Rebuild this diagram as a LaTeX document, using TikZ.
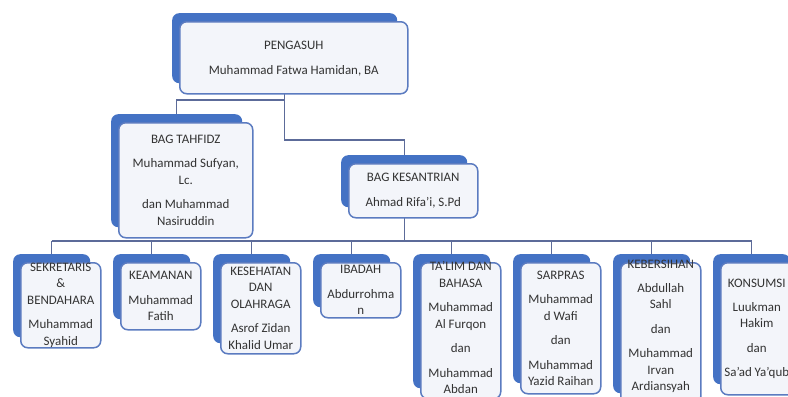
\documentclass[tikz,border=0pt]{standalone}
\usepackage{fontspec}
\setmainfont{Carlito}
\usetikzlibrary{backgrounds}
\definecolor{backblue}{HTML}{4472C4}
\definecolor{frontedge}{HTML}{5B7BC0}
\definecolor{frontfill}{HTML}{F3F5FA}
\definecolor{linecol}{HTML}{5C6B99}
\definecolor{txtcol}{HTML}{333333}
\tikzset{
  backbox/.style={fill=backblue, draw=none, rounded corners=7bp, inner sep=0pt, anchor=north west},
  frontbox/.style={fill=frontfill, draw=frontedge, line width=1.5bp, rounded corners=7bp, inner sep=0pt, anchor=north west},
  boxtext/.style={text=txtcol, align=center, font=\fontsize{13}{16.5}\selectfont, inner sep=0pt},
  conn/.style={draw=linecol, line width=1.2bp}
}
\newcommand\pgap{\\[8bp]}
\newcommand\orgbox[7]{%
  \pgfmathsetmacro\bw{#4-#2}\pgfmathsetmacro\bh{#5-#3}%
  \node[backbox, minimum width=\bw bp-3bp, minimum height=\bh bp-2bp] (#1b) at (#2-7,#3-8) {};
  \node[frontbox, minimum width=\bw bp, minimum height=\bh bp] (#1) at (#2,#3) {};
  \node[boxtext] (#1t) at ([shift={(#7)}]#1.center) {#6};
}
\begin{document}
\begin{tikzpicture}[x=1bp,y=-1bp]
\useasboundingbox (0,0) rectangle (788,396);
\orgbox{p}{179}{21}{407}{93}{PENGASUH\pgap Muhammad Fatwa Hamidan, BA}{0,1}
\orgbox{t}{118}{122}{252}{237}{BAG TAHFIDZ\pgap Muhammad Sufyan,\\ Lc.\pgap dan Muhammad\\ Nasiruddin}{0,0}
\orgbox{k}{348}{163}{477}{217}{BAG KESANTRIAN\pgap Ahmad Rifa’i, S.Pd}{0,0}
\orgbox{ba}{20}{262}{100}{347}{SEKRETARIS\\ \&\\ BENDAHARA\pgap Muhammad\\ Syahid}{0,0}
\orgbox{bb}{120}{262}{200}{329}{KEAMANAN\pgap Muhammad\\ Fatih}{0,0}
\orgbox{bc}{220}{262}{300}{353}{KESEHATAN\\ DAN\\ OLAHRAGA\pgap Asrof Zidan\\ Khalid Umar}{0,0}
\orgbox{bd}{320}{262}{400}{317}{IBADAH\pgap Abdurrohma\\ n}{0,0}
\orgbox{be}{420}{262}{500}{398}{TA’LIM DAN\\ BAHASA\pgap Muhammad\\ Al Furqon\pgap dan\pgap Muhammad\\ Abdan}{0,-3}
\orgbox{bf}{520}{262}{600}{393}{SARPRAS\pgap Muhammad\\ d Wafi\pgap dan\pgap Muhammad\\ Yazid Raihan}{0,0}
\orgbox{bg}{620}{262}{700}{403}{KEBERSIHAN\pgap Abdullah\\ Sahl\pgap dan\pgap Muhammad\\ Irvan\\ Ardiansyah}{0,-7}
\orgbox{bh}{720}{262}{800}{394}{KONSUMSI\pgap Luukman\\ Hakim\pgap dan\pgap Sa’ad Ya’qub}{-4,0}
\begin{scope}[on background layer]
  \coordinate (j1) at (pb.south |- 0,100);
  \coordinate (j2) at (pb.south |- 0,140);
  \draw[conn] (pb.south) -- (j1) -| (tb.north);
  \draw[conn] (j1) -- (j2) -| (kb.north);
  \coordinate (busL) at (bab.north |- 0,241);
  \coordinate (busR) at (bhb.north |- 0,241);
  \draw[conn] (kb.south) -- (kb.south |- busL);
  \draw[conn] (busL) -- (busR);
  \foreach \n in {ba,bb,bc,bd,be,bf,bg,bh}{
    \draw[conn] (\n b.north |- busL) -- (\n b.north);
  }
\end{scope}
\end{tikzpicture}
\end{document}
